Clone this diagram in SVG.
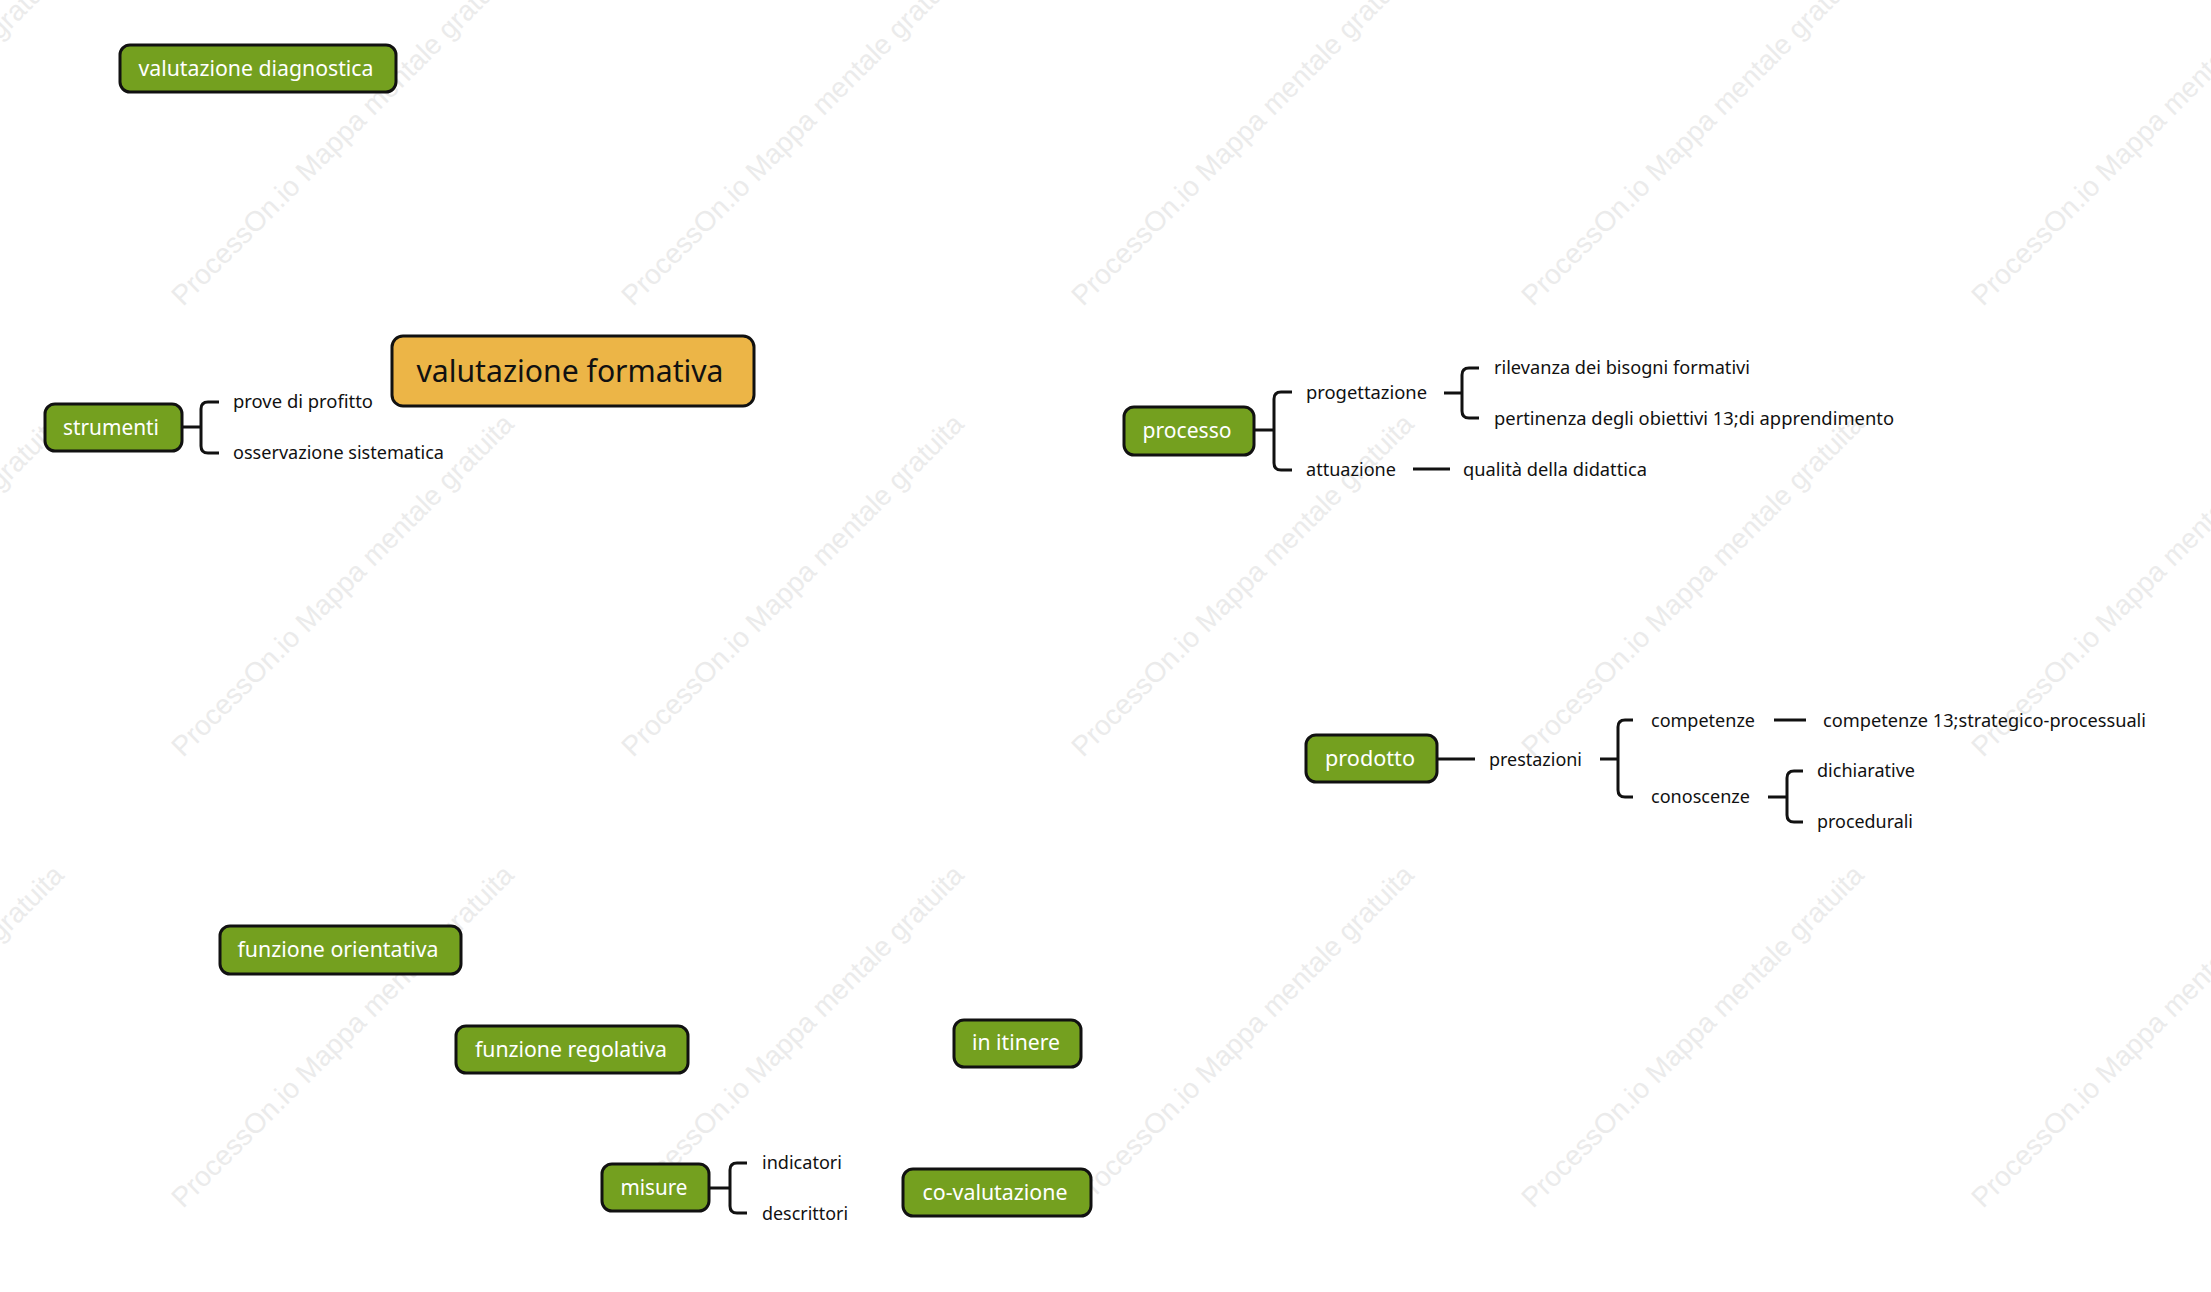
<svg xmlns="http://www.w3.org/2000/svg" width="2211" height="1292" viewBox="0 0 2211 1292">
<style>
.wm{font-family:"Liberation Sans",Arial,sans-serif;font-size:28px;fill:#ebebeb}
.box{fill:#74a01f;stroke:#111;stroke-width:3}
.root{fill:#ecb547;stroke:#111;stroke-width:3}
.nt{font-family:"Noto Sans","Open Sans",sans-serif;font-size:21px;fill:#ffffff;text-anchor:middle}
.rt{font-family:"Noto Sans","Open Sans",sans-serif;font-size:30px;fill:#111;text-anchor:middle}
.ct{font-family:"Noto Sans","Open Sans",sans-serif;font-size:18px;fill:#111}
.ln{fill:none;stroke:#111;stroke-width:3;stroke-linecap:butt}
</style>
<rect x="0" y="0" width="2211" height="1292" fill="#ffffff"/>
<g id="watermark">
<text class="wm" transform="translate(-267,307) rotate(-45)">ProcessOn.io Mappa mentale gratuita</text>
<text class="wm" transform="translate(183,307) rotate(-45)">ProcessOn.io Mappa mentale gratuita</text>
<text class="wm" transform="translate(633,307) rotate(-45)">ProcessOn.io Mappa mentale gratuita</text>
<text class="wm" transform="translate(1083,307) rotate(-45)">ProcessOn.io Mappa mentale gratuita</text>
<text class="wm" transform="translate(1533,307) rotate(-45)">ProcessOn.io Mappa mentale gratuita</text>
<text class="wm" transform="translate(1983,307) rotate(-45)">ProcessOn.io Mappa mentale gratuita</text>
<text class="wm" transform="translate(-267,758) rotate(-45)">ProcessOn.io Mappa mentale gratuita</text>
<text class="wm" transform="translate(183,758) rotate(-45)">ProcessOn.io Mappa mentale gratuita</text>
<text class="wm" transform="translate(633,758) rotate(-45)">ProcessOn.io Mappa mentale gratuita</text>
<text class="wm" transform="translate(1083,758) rotate(-45)">ProcessOn.io Mappa mentale gratuita</text>
<text class="wm" transform="translate(1533,758) rotate(-45)">ProcessOn.io Mappa mentale gratuita</text>
<text class="wm" transform="translate(1983,758) rotate(-45)">ProcessOn.io Mappa mentale gratuita</text>
<text class="wm" transform="translate(-267,1209) rotate(-45)">ProcessOn.io Mappa mentale gratuita</text>
<text class="wm" transform="translate(183,1209) rotate(-45)">ProcessOn.io Mappa mentale gratuita</text>
<text class="wm" transform="translate(633,1209) rotate(-45)">ProcessOn.io Mappa mentale gratuita</text>
<text class="wm" transform="translate(1083,1209) rotate(-45)">ProcessOn.io Mappa mentale gratuita</text>
<text class="wm" transform="translate(1533,1209) rotate(-45)">ProcessOn.io Mappa mentale gratuita</text>
<text class="wm" transform="translate(1983,1209) rotate(-45)">ProcessOn.io Mappa mentale gratuita</text>
</g>
<g id="connectors">
<path class="ln" d="M182 427 H201 M219 402 H208 Q201 402 201 409 V446 Q201 453 208 453 H219"/>
<path class="ln" d="M1254 430 H1274 M1292 392 H1281 Q1274 392 1274 399 V463 Q1274 470 1281 470 H1292"/>
<path class="ln" d="M1444 393 H1462 M1479 368 H1469 Q1462 368 1462 375 V411 Q1462 418 1469 418 H1479"/>
<path class="ln" d="M1413 469 H1450"/>
<path class="ln" d="M1438 759 H1475"/>
<path class="ln" d="M1600 759 H1618 M1633 720 H1625 Q1618 720 1618 727 V790 Q1618 797 1625 797 H1633"/>
<path class="ln" d="M1774 720 H1806"/>
<path class="ln" d="M1768 797 H1787 M1803 771 H1794 Q1787 771 1787 778 V815 Q1787 822 1794 822 H1803"/>
<path class="ln" d="M709 1188 H730 M747 1163 H737 Q730 1163 730 1170 V1206 Q730 1213 737 1213 H747"/>
</g>
<g id="node-diagnostica">
<rect class="box" x="120" y="45" width="276" height="47" rx="10"/>
<text class="nt" x="256" y="76" textLength="235" lengthAdjust="spacingAndGlyphs">valutazione diagnostica</text>
</g>
<g id="node-formativa">
<rect class="root" x="392" y="336" width="362" height="70" rx="11"/>
<text class="rt" x="570" y="382" textLength="307" lengthAdjust="spacingAndGlyphs">valutazione formativa</text>
</g>
<g id="node-strumenti">
<rect class="box" x="45" y="404" width="137" height="47" rx="10"/>
<text class="nt" x="111" y="435" textLength="96" lengthAdjust="spacingAndGlyphs">strumenti</text>
<text class="ct" x="233" y="408" textLength="140" lengthAdjust="spacingAndGlyphs">prove di profitto</text>
<text class="ct" x="233" y="459" textLength="211" lengthAdjust="spacingAndGlyphs">osservazione sistematica</text>
</g>
<g id="node-processo">
<rect class="box" x="1124" y="407" width="130" height="48" rx="10"/>
<text class="nt" x="1187" y="438" textLength="89" lengthAdjust="spacingAndGlyphs">processo</text>
<text class="ct" x="1306" y="399" textLength="121" lengthAdjust="spacingAndGlyphs">progettazione</text>
<text class="ct" x="1306" y="476" textLength="90" lengthAdjust="spacingAndGlyphs">attuazione</text>
<text class="ct" x="1494" y="374" textLength="256" lengthAdjust="spacingAndGlyphs">rilevanza dei bisogni formativi</text>
<text class="ct" x="1494" y="425" textLength="400" lengthAdjust="spacingAndGlyphs">pertinenza degli obiettivi 13;di apprendimento</text>
<text class="ct" x="1463" y="476" textLength="184" lengthAdjust="spacingAndGlyphs">qualità della didattica</text>
</g>
<g id="node-prodotto">
<rect class="box" x="1306" y="735" width="131" height="47" rx="10"/>
<text class="nt" x="1370" y="766" textLength="90" lengthAdjust="spacingAndGlyphs">prodotto</text>
<text class="ct" x="1489" y="766" textLength="93" lengthAdjust="spacingAndGlyphs">prestazioni</text>
<text class="ct" x="1651" y="727" textLength="104" lengthAdjust="spacingAndGlyphs">competenze</text>
<text class="ct" x="1651" y="803" textLength="99" lengthAdjust="spacingAndGlyphs">conoscenze</text>
<text class="ct" x="1823" y="727" textLength="323" lengthAdjust="spacingAndGlyphs">competenze 13;strategico-processuali</text>
<text class="ct" x="1817" y="777" textLength="98" lengthAdjust="spacingAndGlyphs">dichiarative</text>
<text class="ct" x="1817" y="828" textLength="96" lengthAdjust="spacingAndGlyphs">procedurali</text>
</g>
<g id="node-orientativa">
<rect class="box" x="220" y="926" width="241" height="48" rx="10"/>
<text class="nt" x="338" y="957" textLength="201" lengthAdjust="spacingAndGlyphs">funzione orientativa</text>
</g>
<g id="node-regolativa">
<rect class="box" x="456" y="1026" width="232" height="47" rx="10"/>
<text class="nt" x="571" y="1057" textLength="192" lengthAdjust="spacingAndGlyphs">funzione regolativa</text>
</g>
<g id="node-itinere">
<rect class="box" x="954" y="1020" width="127" height="47" rx="10"/>
<text class="nt" x="1016" y="1050" textLength="88" lengthAdjust="spacingAndGlyphs">in itinere</text>
</g>
<g id="node-misure">
<rect class="box" x="602" y="1164" width="107" height="47" rx="10"/>
<text class="nt" x="654" y="1195" textLength="67" lengthAdjust="spacingAndGlyphs">misure</text>
<text class="ct" x="762" y="1169" textLength="80" lengthAdjust="spacingAndGlyphs">indicatori</text>
<text class="ct" x="762" y="1220" textLength="86" lengthAdjust="spacingAndGlyphs">descrittori</text>
</g>
<g id="node-covalutazione">
<rect class="box" x="903" y="1169" width="188" height="47" rx="10"/>
<text class="nt" x="995" y="1200" textLength="145" lengthAdjust="spacingAndGlyphs">co-valutazione</text>
</g>
</svg>
